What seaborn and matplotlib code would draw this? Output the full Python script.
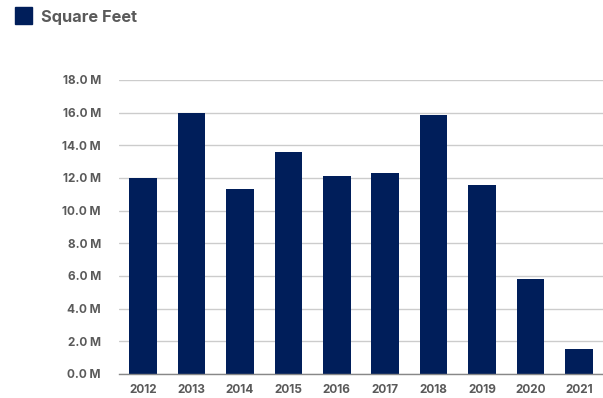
import matplotlib
matplotlib.use("Agg")
import matplotlib.pyplot as plt
import seaborn as sns
import pandas as pd
from matplotlib.patches import Rectangle

years = ["2012", "2013", "2014", "2015", "2016", "2017", "2018", "2019", "2020", "2021"]
square_feet_m = [12.0, 15.95, 11.33, 13.57, 12.1, 12.29, 15.88, 11.55, 5.8, 1.51]
y_ticks = [0, 2, 4, 6, 8, 10, 12, 14, 16, 18]
y_tick_labels = ["0.0 M", "2.0 M", "4.0 M", "6.0 M", "8.0 M", "10.0 M", "12.0 M", "14.0 M", "16.0 M", "18.0 M"]
series_name = "Square Feet"

df = pd.DataFrame({"year": years, "value": square_feet_m})

sns.set_theme(style="white")
plt.rcParams['font.family'] = ['Inter', 'DejaVu Sans']

bar_color = "#001e5a"
text_color = "#5a5a5a"

fig = plt.figure(figsize=(6.03, 3.98), dpi=100)
ax = fig.add_axes([119/603, 24/398, (603-119)/603, (374-80)/398])

sns.barplot(data=df, x="year", y="value", color=bar_color, width=0.57,
            saturation=1, ax=ax, zorder=3, edgecolor="none")

ax.set_ylim(0, 18)
ax.set_xlim(-0.5, 9.5)
ax.set_yticks(y_ticks)
ax.set_yticklabels(y_tick_labels)
ax.grid(axis="y", color="#cccccc", linewidth=1, zorder=0)
ax.grid(axis="x", visible=False)
for s in ["top", "right", "left"]:
    ax.spines[s].set_visible(False)
ax.spines["bottom"].set_color("#888888")
ax.spines["bottom"].set_linewidth(1)
ax.spines["bottom"].set_zorder(4)
ax.tick_params(axis="both", length=0, labelsize=8.5, labelcolor=text_color)
ax.tick_params(axis="y", pad=13)
ax.tick_params(axis="x", pad=7)
for lbl in ax.get_xticklabels() + ax.get_yticklabels():
    lbl.set_fontweight("bold")
ax.set_xlabel("")
ax.set_ylabel("")

# legend
fig.patches.append(Rectangle((15/603, 1 - 24/398), 17/603, 17/398,
                             transform=fig.transFigure, color=bar_color, figure=fig))
fig.text(41/603, 1 - 17.5/398, series_name, fontsize=11.8, fontweight="bold",
         color=text_color, va="center", ha="left")

fig.savefig("out.png", dpi=100)
